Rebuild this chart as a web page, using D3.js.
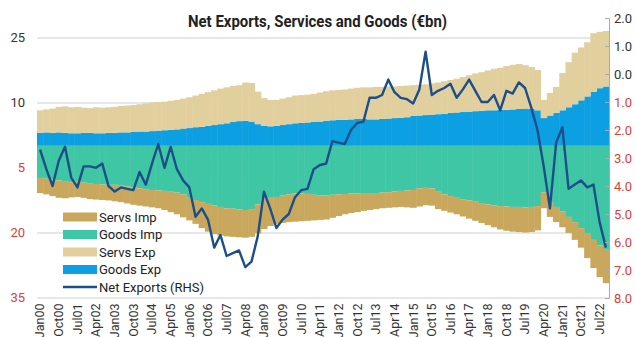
<!DOCTYPE html>
<html>
<head>
<meta charset="utf-8">
<script src="https://cdn.jsdelivr.net/npm/d3@7"></script>
<style>
  body { margin: 0; background: #fff; }
  svg { display: block; font-family: Roboto, "Noto Sans", sans-serif; }
</style>
</head>
<body>
<svg width="636" height="337"></svg>
<script>
// quarterly categories, Q1 2000 .. Q4 2022
const quarters = [
  "Jan00","Apr00","Jul00","Oct00","Jan01","Apr01","Jul01","Oct01",
  "Jan02","Apr02","Jul02","Oct02","Jan03","Apr03","Jul03","Oct03",
  "Jan04","Apr04","Jul04","Oct04","Jan05","Apr05","Jul05","Oct05",
  "Jan06","Apr06","Jul06","Oct06","Jan07","Apr07","Jul07","Oct07",
  "Jan08","Apr08","Jul08","Oct08","Jan09","Apr09","Jul09","Oct09",
  "Jan10","Apr10","Jul10","Oct10","Jan11","Apr11","Jul11","Oct11",
  "Jan12","Apr12","Jul12","Oct12","Jan13","Apr13","Jul13","Oct13",
  "Jan14","Apr14","Jul14","Oct14","Jan15","Apr15","Jul15","Oct15",
  "Jan16","Apr16","Jul16","Oct16","Jan17","Apr17","Jul17","Oct17",
  "Jan18","Apr18","Jul18","Oct18","Jan19","Apr19","Jul19","Oct19",
  "Jan20","Apr20","Jul20","Oct20","Jan21","Apr21","Jul21","Oct21",
  "Jan22","Apr22","Jul22","Oct22"
]

const tickLabels = ["Jan00","Oct00","Jul01","Apr02","Jan03","Oct03","Jul04","Apr05",
  "Jan06","Oct06","Jul07","Apr08","Jan09","Oct09","Jul10","Apr11","Jan12","Oct12",
  "Jul13","Apr14","Jan15","Oct15","Jul16","Apr17","Jan18","Oct18","Jul19","Apr20",
  "Jan21","Oct21","Jul22"]

const leftTicks = [25, 10, -5, -20, -35]
const rightTicks = [2, 1, 0, -1, -2, -3, -4, -5, -6, -7, -8]

// €bn, left axis
const goodsExp = [
  3.0,3.1,3.0,3.1,3.0,2.9,2.9,3.0, 3.0,2.9,2.9,3.0,3.0,3.1,3.1,3.2,
  3.3,3.3,3.4,3.5,3.6,3.7,3.8,4.0, 4.1,4.3,4.4,4.6,4.8,5.0,5.2,5.5,
  5.7,5.8,5.6,5.0, 4.6,4.5,4.6,4.8,5.0,5.2,5.3,5.4,
  5.5,5.6,5.8,5.9,6.0,6.0,6.1,6.2, 6.2,6.1,6.1,6.2,6.3,6.4,6.5,6.6,
  6.9,7.0,7.1,7.2,7.3,7.4,7.6,7.7, 7.8,7.9,8.0,8.1,8.2,8.2,8.3,8.3,
  8.4,8.5,8.6,8.5, 8.2,6.4,7.0,7.6, 8.2,8.9,9.6,10.5, 11.4,12.5,13.3,13.7
]
const servsExp = [
  5.2,5.3,5.6,5.9,6.1,6.0,6.1,5.8, 5.7,6.0,5.9,5.9,6.0,6.1,6.2,6.2,
  6.3,6.5,6.6,6.6,6.6,6.7,6.8,6.9, 7.1,7.3,7.6,7.8,8.0,8.2,8.3,8.3,
  8.3,8.8,8.9,7.5, 6.4,6.1,6.0,6.1,6.2,6.4,6.4,6.4,
  6.5,6.7,6.8,6.9,6.9,7.0,7.1,7.2, 7.3,7.4,7.5,7.4,7.4,7.3,7.3,7.3,
  7.1,7.1,7.1,7.2,7.3,7.5,7.6,7.8, 8.1,8.4,8.7,8.9,9.2,9.6,9.7,10.1,
  10.3,10.4,10.0,9.7, 9.3,4.2,5.2,6.0, 8.6,10.4,11.9,12.2, 12.5,13.5,13.0,12.8
]
const goodsImp = [
  -7.4,-7.6,-7.8,-8.0,-8.3,-8.4,-8.3,-8.5, -8.6,-8.8,-8.9,-9.0,-9.0,-9.2,-9.4,-9.6,
  -9.8,-10.0,-10.2,-10.3,-10.4,-10.6,-10.8,-11.2, -11.8,-12.5,-13.0,-13.4,-13.8,-14.1,-14.4,-14.5,
  -14.7,-14.8,-14.6,-13.5, -12.2,-12.0,-11.8,-11.5,-11.2,-11.0,-11.0,-11.1,
  -11.3,-11.4,-11.4,-11.3,-11.2,-11.1,-11.0,-11.0, -10.9,-10.9,-10.9,-10.8,-10.7,-10.5,-10.4,-10.3,
  -10.2,-9.8,-9.7,-9.8,-10.6,-11.2,-11.6,-12.0, -12.3,-12.6,-12.9,-13.2,-13.5,-13.7,-13.9,-14.0,
  -14.1,-14.1,-14.2,-14.1, -13.9,-10.7,-13.0,-14.1, -15.2,-16.4,-17.6,-19.0, -20.3,-21.7,-23.0,-24.0
]
const servsImp = [
  -3.5,-3.6,-3.8,-4.0,-3.8,-3.5,-3.5,-3.5, -3.7,-3.6,-3.6,-3.6,-3.8,-3.8,-3.9,-4.0,
  -4.0,-4.0,-4.0,-4.1,-4.4,-4.7,-5.0,-5.3, -5.4,-5.5,-6.0,-6.4,-6.6,-6.6,-6.5,-6.5,
  -6.4,-6.4,-6.4,-6.7, -7.0,-6.5,-6.2,-6.3,-6.4,-6.5,-6.4,-6.2,
  -5.9,-5.7,-5.6,-5.3,-5.0,-4.7,-4.5,-4.3, -4.1,-3.9,-3.7,-3.6,-3.6,-3.7,-3.7,-3.9,
  -4.1,-4.2,-4.0,-4.0,-4.0,-3.8,-3.8,-3.8, -4.0,-4.2,-4.4,-4.6,-4.8,-5.1,-5.4,-5.6,
  -5.7,-5.8,-5.8,-5.8, -5.6,-3.7,-3.4,-3.5, -3.6,-3.7,-4.1,-4.5, -5.6,-6.5,-7.3,-7.7
]
// €bn, right axis
const netExports = [
  -2.7,-3.4,-4.0,-3.1,-2.6,-3.7,-4.05,-3.3, -3.3,-3.35,-3.2,-4.0,-4.2,-4.05,-4.1,-4.15,
  -3.5,-3.95,-3.2,-2.5,-3.35,-2.6,-3.4,-3.8, -4.05,-5.1,-4.8,-5.2,-6.2,-5.75,-6.5,-6.4,
  -6.3,-6.9,-6.7,-5.8, -4.2,-4.8,-5.5,-5.2,-5.0,-4.4,-4.15,-4.1,
  -3.4,-3.25,-3.2,-2.4,-2.45,-2.5,-2.0,-1.75, -1.7,-0.85,-0.85,-0.75,-0.2,-0.65,-0.85,-0.9,
  -1.05,-0.55,0.8,-0.75,-0.6,-0.5,-0.35,-0.85, -0.55,-0.2,-0.6,-1.0,-1.0,-0.75,-1.3,-0.6,
  -0.7,-0.3,-0.5,-1.2, -2.0,-3.3,-4.8,-2.45, -1.9,-4.1,-3.95,-3.8, -4.05,-3.95,-5.3,-6.2
]

const keys = ["goodsExp", "servsExp", "goodsImp", "servsImp"]
const names = { servsImp: "Servs Imp", goodsImp: "Goods Imp", servsExp: "Servs Exp", goodsExp: "Goods Exp" }
const colors = { goodsExp: "#0c9fe2", servsExp: "#e2cf9e", goodsImp: "#3fc6a5", servsImp: "#c9a85e" }
const lineColor = "#1c4f8a"
const red = "#d8413c"

const table = quarters.map((q, i) => ({
  q, goodsExp: goodsExp[i], servsExp: servsExp[i], goodsImp: goodsImp[i], servsImp: servsImp[i], net: netExports[i]
}))

const svg = d3.select("svg")

const x = d3.scaleBand().domain(quarters).range([37, 609]).padding(0)
const yL = d3.scaleLinear().domain([-35, 25]).range([297.5, 37.5])
const yR = d3.scaleLinear().domain([-8, 2]).range([298, 18])

// gridlines
svg.append("g")
    .attr("transform", "translate(37,0)")
    .call(d3.axisLeft(yL).tickValues(leftTicks).tickSize(-572).tickFormat(""))
    .call(g => g.select(".domain").remove())
    .call(g => g.selectAll("line").attr("stroke", "#cfcfcf"))

const series = d3.stack().keys(keys).offset(d3.stackOffsetDiverging)(table)

svg.append("g")
  .selectAll("g")
  .data(series)
  .join("g")
    .attr("fill", d => colors[d.key])
  .selectAll("rect")
  .data(d => d)
  .join("rect")
    .attr("x", d => x(d.data.q))
    .attr("width", x.bandwidth() + 0.5)
    .attr("y", d => yL(d[1]))
    .attr("height", d => yL(d[0]) - yL(d[1]))

const line = d3.line()
    .x(d => x(d.q) + x.bandwidth() / 2)
    .y(d => yR(d.net))

svg.append("path")
    .datum(table)
    .attr("fill", "none")
    .attr("stroke", lineColor)
    .attr("stroke-width", 2.4)
    .attr("stroke-linejoin", "round")
    .attr("d", line)

// left axis
svg.append("g")
    .attr("transform", "translate(37,0)")
    .call(d3.axisLeft(yL).tickValues(leftTicks).tickSize(0).tickPadding(12).tickFormat(d => Math.abs(d)))
    .call(g => g.select(".domain").remove())
    .call(g => g.selectAll("text")
        .attr("font-size", 13)
        .attr("font-family", "Roboto")
        .attr("fill", d => d < 0 ? red : "#333"))

// right axis
svg.append("g")
    .attr("transform", "translate(609,0)")
    .call(d3.axisRight(yR).tickValues(rightTicks).tickSize(-4).tickSizeOuter(0).tickPadding(5)
        .tickFormat(d => Math.abs(d).toFixed(1)))
    .call(g => g.select(".domain").attr("stroke", "#aaa"))
    .call(g => g.selectAll("line").attr("stroke", "#aaa"))
    .call(g => g.selectAll("text")
        .attr("font-size", 13)
        .attr("font-family", "Roboto")
        .attr("fill", d => d < 0 ? red : "#333"))

// bottom labels
svg.append("g")
    .attr("transform", "translate(0,297.5)")
    .call(d3.axisBottom(x).tickValues(tickLabels).tickSize(0))
    .call(g => g.select(".domain").remove())
    .call(g => g.selectAll("text")
        .attr("transform", "rotate(-90)")
        .attr("text-anchor", "end")
        .attr("x", -6)
        .attr("y", 0)
        .attr("dy", "0.35em")
        .attr("font-size", 12.5)
        .attr("font-family", "Roboto")
        .attr("fill", "#333"))

// title
svg.append("text")
    .attr("x", 317.5)
    .attr("y", 27)
    .attr("text-anchor", "middle")
    .attr("font-size", 17)
    .attr("font-weight", "bold")
    .attr("fill", "#222")
    .attr("textLength", 259)
    .attr("lengthAdjust", "spacingAndGlyphs")
    .text("Net Exports, Services and Goods (€bn)")

// legend
const legendItems = ["servsImp", "goodsImp", "servsExp", "goodsExp", "net"]
const legend = svg.append("g").attr("transform", "translate(63,217)")
legendItems.forEach((k, i) => {
  const g = legend.append("g").attr("transform", `translate(0,${i * 17.5})`)
  if (k === "net") {
    g.append("line").attr("x1", 0).attr("x2", 34).attr("y1", 0).attr("y2", 0)
      .attr("stroke", lineColor).attr("stroke-width", 2.4)
  } else {
    g.append("rect").attr("x", 0).attr("y", -4.5).attr("width", 34).attr("height", 9)
      .attr("fill", colors[k])
  }
  g.append("text")
    .attr("x", 36)
    .attr("dy", "0.35em")
    .attr("font-size", 13)
    .attr("fill", "#222")
    .text(k === "net" ? "Net Exports (RHS)" : names[k])
})
</script>
</body>
</html>
